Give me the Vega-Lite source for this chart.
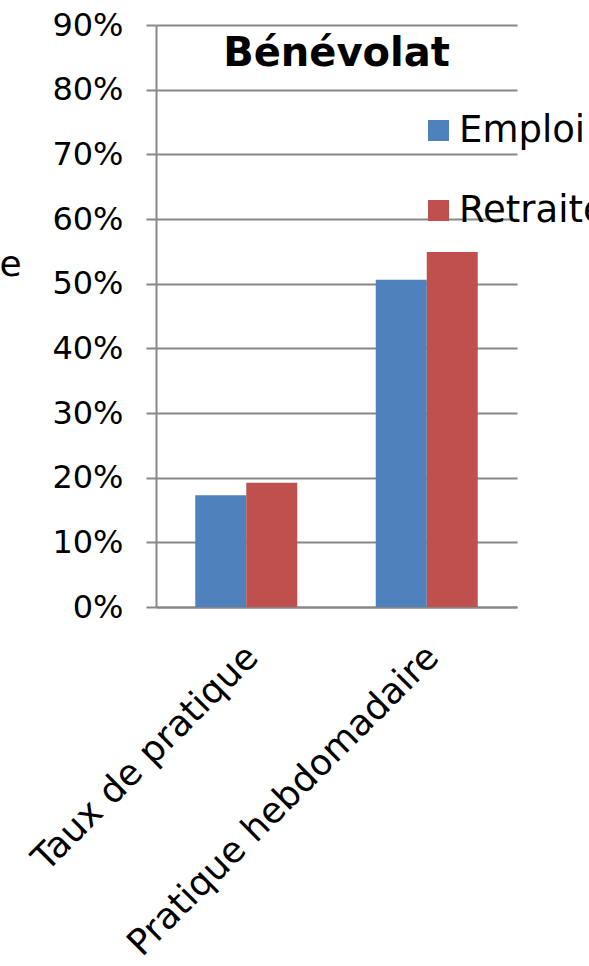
{
  "$schema": "https://vega.github.io/schema/vega-lite/v6.json",
  "width": 361,
  "height": 582,
  "autosize": {"type": "none"},
  "padding": {"left": 156, "top": 25, "right": 72, "bottom": 359},
  "background": "white",
  "title": {
    "text": "Bénévolat",
    "anchor": "middle",
    "frame": "group",
    "font": "DejaVu Sans",
    "fontSize": 40,
    "fontWeight": "bold",
    "color": "black",
    "baseline": "alphabetic",
    "offset": 0,
    "dy": 97
  },
  "data": {
    "values": [
      {"categorie": "Taux de pratique", "groupe": "Emploi", "valeur": 0.173},
      {"categorie": "Taux de pratique", "groupe": "Retraite", "valeur": 0.192},
      {"categorie": "Pratique hebdomadaire", "groupe": "Emploi", "valeur": 0.506},
      {"categorie": "Pratique hebdomadaire", "groupe": "Retraite", "valeur": 0.549}
    ]
  },
  "mark": {"type": "bar"},
  "encoding": {
    "x": {
      "field": "categorie",
      "type": "nominal",
      "sort": ["Taux de pratique", "Pratique hebdomadaire"],
      "scale": {"paddingInner": 0.435, "paddingOuter": 0.2175},
      "axis": {
        "title": null,
        "labelAngle": -45,
        "labelFont": "DejaVu Sans",
        "labelFontSize": 36,
        "labelColor": "black",
        "labelPadding": 32,
        "labelOffset": -6,
        "labelLimit": 800,
        "ticks": false,
        "domainColor": "#888888",
        "domainWidth": 2
      }
    },
    "xOffset": {"field": "groupe", "type": "nominal", "sort": ["Emploi", "Retraite"], "scale": {"paddingInner": 0, "paddingOuter": 0}},
    "y": {
      "field": "valeur",
      "type": "quantitative",
      "scale": {"domain": [0, 0.9], "nice": false},
      "axis": {
        "title": "e",
        "titleAngle": 0,
        "titleAlign": "left",
        "titleBaseline": "alphabetic",
        "titleX": -157,
        "titleY": 250,
        "titleFont": "DejaVu Sans",
        "titleFontSize": 36,
        "titleFontWeight": "normal",
        "titleColor": "black",
        "format": ".0%",
        "values": [0, 0.1, 0.2, 0.3, 0.4, 0.5, 0.6, 0.7, 0.8, 0.9],
        "labelFont": "DejaVu Sans",
        "labelFontSize": 32,
        "labelColor": "black",
        "labelPadding": 23,
        "tickSize": 10,
        "tickColor": "#888888",
        "tickWidth": 2,
        "domainColor": "#888888",
        "domainWidth": 2,
        "grid": true,
        "gridColor": "#888888",
        "gridWidth": 2
      }
    },
    "color": {
      "field": "groupe",
      "type": "nominal",
      "scale": {"domain": ["Emploi", "Retraite"], "range": ["#4F81BD", "#C0504D"]},
      "legend": {
        "title": null,
        "orient": "none",
        "legendX": 264,
        "legendY": 87,
        "symbolType": "square",
        "symbolSize": 441,
        "symbolStrokeWidth": 0,
        "labelFont": "DejaVu Sans",
        "labelFontSize": 37,
        "labelColor": "black",
        "labelLimit": 800,
        "labelOffset": 2,
        "rowPadding": 42,
        "padding": 0
      }
    }
  },
  "config": {"view": {"stroke": null}}
}
